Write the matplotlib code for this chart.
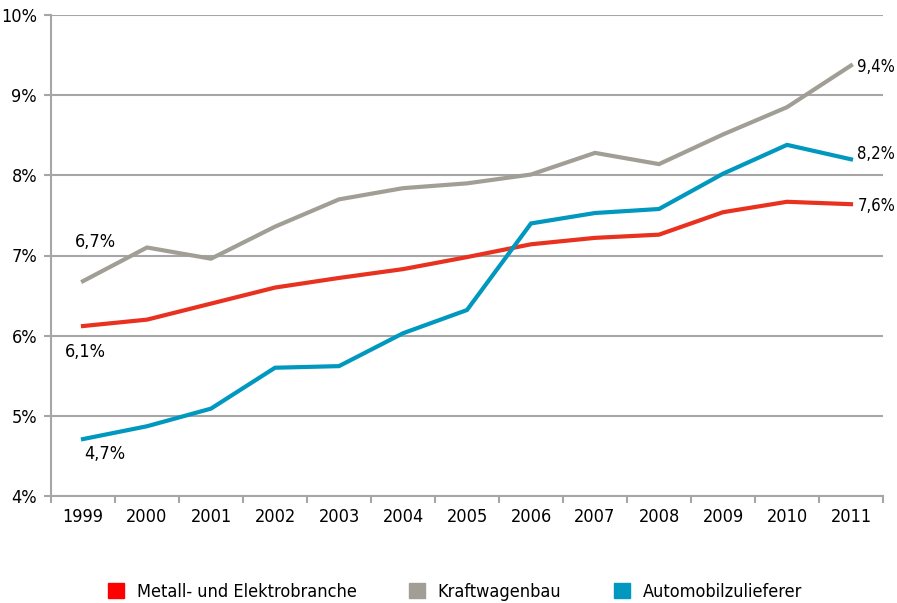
import matplotlib.pyplot as plt
from matplotlib.patches import Patch

plt.rcParams['font.family'] = ['DejaVu Sans']
plt.rcParams['font.stretch'] = 'condensed'

years = ['1999', '2000', '2001', '2002', '2003', '2004', '2005',
         '2006', '2007', '2008', '2009', '2010', '2011']
metall = [6.12, 6.20, 6.40, 6.60, 6.72, 6.83, 6.98, 7.14, 7.22, 7.26, 7.54, 7.67, 7.64]
kraft = [6.68, 7.10, 6.96, 7.36, 7.70, 7.84, 7.90, 8.01, 8.28, 8.14, 8.51, 8.85, 9.37]
zulief = [4.71, 4.87, 5.09, 5.60, 5.62, 6.03, 6.32, 7.40, 7.53, 7.58, 8.02, 8.38, 8.20]
names = ['Metall- und Elektrobranche', 'Kraftwagenbau', 'Automobilzulieferer']

red = '#e8311f'
grey = '#a19f95'
blue = '#0098bf'
axis_col = '#a6a6a6'

fig = plt.figure(figsize=(8.97, 6.03), dpi=100)
ax = fig.add_axes([51/897, 107/603, 832/897, 481/603])

x = list(range(len(years)))
ax.plot(x, kraft, color=grey, lw=3, solid_joinstyle='miter')
ax.plot(x, metall, color=red, lw=3, solid_joinstyle='miter')
ax.plot(x, zulief, color=blue, lw=3, solid_joinstyle='miter')

ax.set_xlim(-0.5, len(years) - 0.5)
ax.set_ylim(4, 10)
ax.set_yticks(range(4, 11))
ax.set_yticklabels([f'{v}%' for v in range(4, 11)], fontsize=13)
ax.yaxis.grid(True, color=axis_col, lw=1.5)
ax.set_axisbelow(True)

ax.set_xticks(x)
ax.set_xticklabels(years, fontsize=13)
ax.tick_params(axis='x', length=0, pad=9)
ax.set_xticks([i - 0.5 for i in range(len(years) + 1)], minor=True)
ax.tick_params(axis='x', which='minor', length=5, width=1.5, color=axis_col)
ax.tick_params(axis='y', length=5, width=1.5, color=axis_col, pad=5)

for s in ['top', 'right']:
    ax.spines[s].set_visible(False)
for s in ['left', 'bottom']:
    ax.spines[s].set_color(axis_col)
    ax.spines[s].set_linewidth(1.5)

# value labels
ax.text(x[0] + 0.2, kraft[0] + 0.49, '6,7%', fontsize=13, ha='center', va='center')
ax.text(x[0] + 0.03, metall[0] - 0.32, '6,1%', fontsize=13, ha='center', va='center')
ax.text(x[0] + 0.34, zulief[0] - 0.19, '4,7%', fontsize=13, ha='center', va='center')
ax.text(x[-1] + 0.1, kraft[-1] - 0.02, '9,4%', fontsize=12, ha='left', va='center')
ax.text(x[-1] + 0.1, zulief[-1] + 0.07, '8,2%', fontsize=12, ha='left', va='center')
ax.text(x[-1] + 0.1, metall[-1] - 0.02, '7,6%', fontsize=12, ha='left', va='center')

handles = [Patch(color='#ff0000'), Patch(color=grey), Patch(color=blue)]
fig.legend(handles, names, loc='center', bbox_to_anchor=(0.507, 0.018), ncol=3,
           frameon=False, fontsize=13, handlelength=0.9, handleheight=0.9,
           columnspacing=2.9, handletextpad=0.7)

fig.savefig('out.png', dpi=100)
